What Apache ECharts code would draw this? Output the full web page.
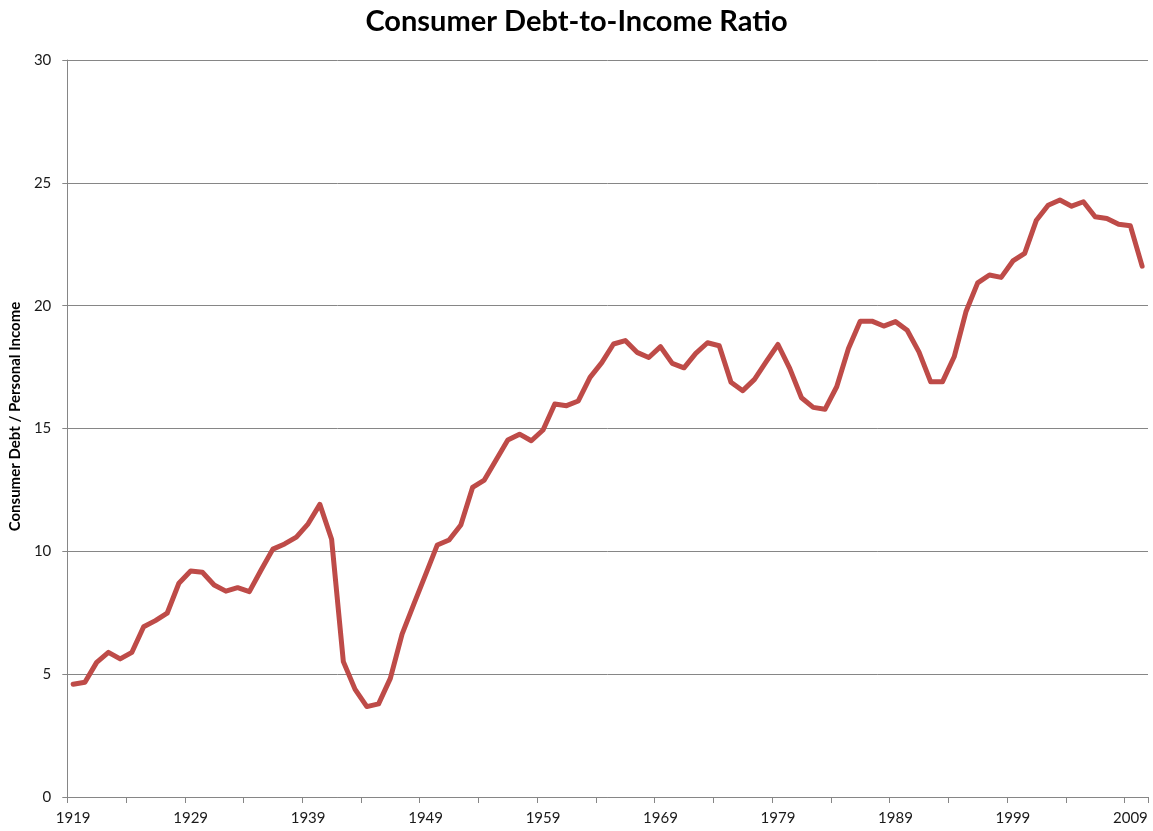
<!DOCTYPE html>
<html>
<head>
<meta charset="utf-8">
<title>Consumer Debt-to-Income Ratio</title>
<script src="https://cdn.jsdelivr.net/npm/echarts@6/dist/echarts.min.js"></script>
<style>
  html, body { margin: 0; padding: 0; background: #ffffff; }
  #chart { width: 1153px; height: 831px; }
</style>
</head>
<body>
<div id="chart"></div>
<script>
// Years on the category axis
const years = [
  '1919','1920','1921','1922','1923','1924','1925','1926','1927','1928',
  '1929','1930','1931','1932','1933','1934','1935','1936','1937','1938',
  '1939','1940','1941','1942','1943','1944','1945','1946','1947','1948',
  '1949','1950','1951','1952','1953','1954','1955','1956','1957','1958',
  '1959','1960','1961','1962','1963','1964','1965','1966','1967','1968',
  '1969','1970','1971','1972','1973','1974','1975','1976','1977','1978',
  '1979','1980','1981','1982','1983','1984','1985','1986','1987','1988',
  '1989','1990','1991','1992','1993','1994','1995','1996','1997','1998',
  '1999','2000','2001','2002','2003','2004','2005','2006','2007','2008',
  '2009','2010'
];

// Consumer debt as a percentage of personal income, one value per year
const debtToIncome = [
  4.59, 4.67, 5.48, 5.89, 5.62, 5.89, 6.93, 7.18, 7.48, 8.70,
  9.20, 9.15, 8.63, 8.38, 8.52, 8.36, 9.24, 10.09, 10.30, 10.58,
  11.12, 11.91, 10.49, 5.51, 4.38, 3.68, 3.79, 4.83, 6.63, 7.85,
  9.05, 10.26, 10.46, 11.07, 12.60, 12.90, 13.72, 14.53, 14.77, 14.50,
  14.94, 16.00, 15.93, 16.12, 17.08, 17.68, 18.44, 18.58, 18.10, 17.89,
  18.33, 17.65, 17.47, 18.06, 18.49, 18.37, 16.88, 16.54, 17.00, 17.72,
  18.42, 17.45, 16.25, 15.86, 15.78, 16.70, 18.26, 19.37, 19.37, 19.17,
  19.35, 19.00, 18.12, 16.90, 16.90, 17.92, 19.75, 20.93, 21.25, 21.15,
  21.82, 22.13, 23.48, 24.09, 24.30, 24.05, 24.23, 23.62, 23.55, 23.31,
  23.25, 21.61
];

// Value-axis range and step
const yMin = 0;
const yMax = 30;
const yStep = 5;

const chartTitle = 'Consumer Debt-to-Income Ratio';
const yAxisTitle = 'Consumer Debt / Personal Income';

const axisGrey = '#868686';
const lineRed = '#BE4B48';
const labelFont = 'Lato, "Open Sans", sans-serif';

const chart = echarts.init(document.getElementById('chart'), null, { renderer: 'canvas' });

chart.setOption({
  backgroundColor: '#ffffff',
  animation: false,
  title: {
    text: chartTitle,
    left: 'center',
    top: 2,
    textStyle: {
      fontFamily: labelFont,
      fontWeight: 'bold',
      fontSize: 29,
      color: '#000000'
    }
  },
  grid: {
    left: 62,
    right: 5,
    top: 60,
    bottom: 34,
    containLabel: false
  },
  xAxis: {
    type: 'category',
    data: years,
    boundaryGap: true,
    axisLine: { show: true, lineStyle: { color: axisGrey, width: 1 } },
    axisTick: {
      show: true,
      interval: 4,
      inside: false,
      length: 6,
      lineStyle: { color: axisGrey, width: 1 }
    },
    axisLabel: {
      interval: 9,
      margin: 14,
      fontFamily: labelFont,
      fontSize: 15,
      color: '#1a1a1a'
    },
    splitLine: { show: false }
  },
  yAxis: {
    type: 'value',
    min: yMin,
    max: yMax,
    interval: yStep,
    name: yAxisTitle,
    nameLocation: 'middle',
    nameRotate: 90,
    nameGap: 44,
    nameTextStyle: {
      fontFamily: labelFont,
      fontWeight: 'bold',
      fontSize: 15,
      color: '#000000',
      padding: [0, 0, 0, 24]
    },
    axisLine: { show: true, lineStyle: { color: axisGrey, width: 1 } },
    axisTick: {
      show: true,
      inside: false,
      length: 5,
      lineStyle: { color: axisGrey, width: 1 }
    },
    axisLabel: {
      margin: 16,
      fontFamily: labelFont,
      fontSize: 15,
      color: '#1a1a1a'
    },
    splitLine: { show: true, lineStyle: { color: axisGrey, width: 1 } }
  },
  series: [{
    type: 'line',
    data: debtToIncome,
    symbol: 'none',
    smooth: false,
    lineStyle: { color: lineRed, width: 5, join: 'round', cap: 'round' },
    itemStyle: { color: lineRed }
  }]
});
</script>
</body>
</html>
